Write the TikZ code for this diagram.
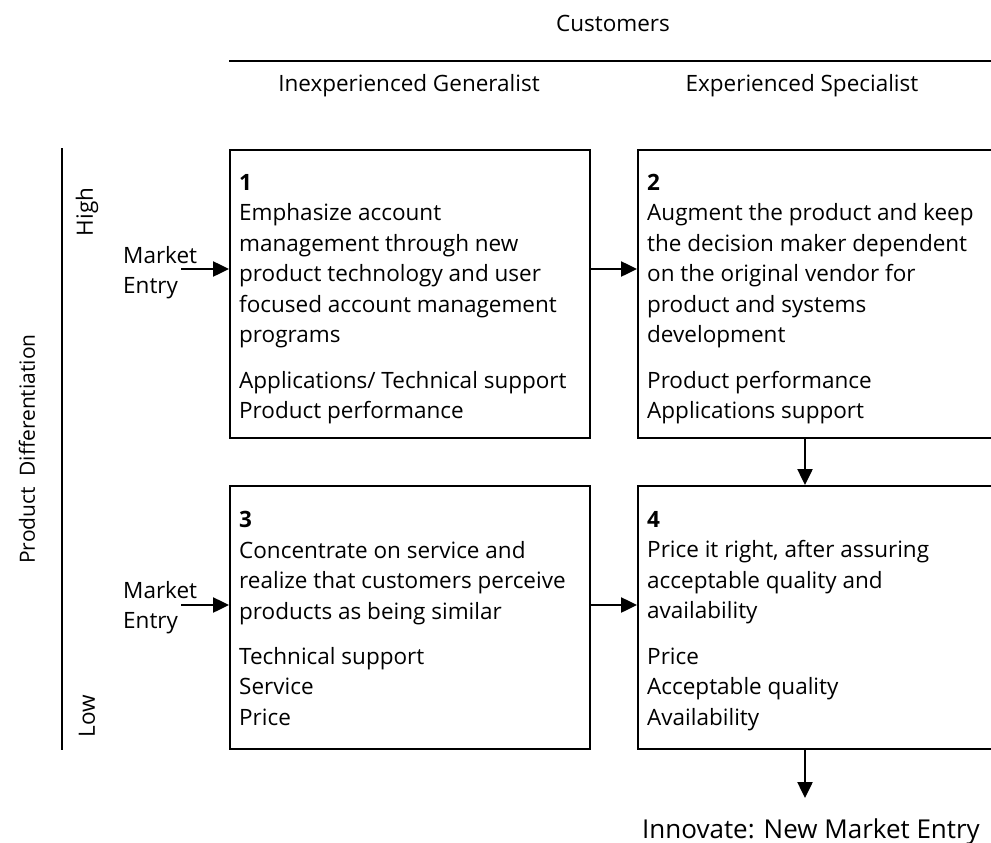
\documentclass[tikz,border=0pt]{standalone}
\usepackage{fontspec}
\setmainfont{Open Sans}
\usetikzlibrary{arrows.meta}

\begin{document}
\begin{tikzpicture}[x=1pt, y=-1pt,
    every node/.style={font=\fontsize{22.5}{30.5}\selectfont},
    quad/.style={draw, line width=1.8pt, minimum width=360pt, inner sep=0pt, anchor=north west},
    body/.style={align=left, inner sep=0pt, anchor=north west},
    rule/.style={line width=1.8pt},
    arrow/.style={-{Triangle[length=16pt,width=15pt]}, line width=2.5pt}
]
\useasboundingbox (0,0) rectangle (991,843);

\node[anchor=base] (cust) at (613,32) {Customers};
\node[anchor=base] (gen) at (409,92) {Inexperienced Generalist};
\node[anchor=base] (spec) at (802,92) {Experienced Specialist};

\node[rotate=90, font=\fontsize{21}{26}\selectfont] (pd) at (27,449) {Product\hspace{0.5em}Differentiation};
\node[rotate=90] (hi) at (87,212) {High};
\node[rotate=90] (lo) at (87,716) {Low};

\node[quad, minimum height=288pt] (b1) at (229,149) {};
\node[quad, minimum height=288pt] (b2) at (637,149) {};
\node[quad, minimum height=263pt] (b3) at (229,485) {};
\node[quad, minimum height=263pt] (b4) at (637,485) {};

\node[body] (t1) at (239,174) {\textbf{1}\\ Emphasize account\\ management through new\\ product technology and user\\ focused account management\\ programs\\[15pt] Applications/ Technical support\\ Product performance};
\node[body] (t2) at (647,174) {\textbf{2}\\ Augment the product and keep\\ the decision maker dependent\\ on the original vendor for\\ product and systems\\ development\\[15pt] Product performance\\ Applications support};
\node[body] (t3) at (239,511) {\textbf{3}\\ Concentrate on service and\\ realize that customers perceive\\ products as being similar\\[15pt] Technical support\\ Service\\ Price};
\node[body] (t4) at (647,511) {\textbf{4}\\ Price it right, after assuring\\ acceptable quality and\\ availability\\[15pt] Price\\ Acceptable quality\\ Availability};

\node[body] (me1) at (123,246) {Market\\ Entry};
\node[body] (me2) at (123,581) {Market\\ Entry};
\node[anchor=base, font=\fontsize{26}{30}\selectfont] (innov) at (811,838) {Innovate: New Market Entry};

\coordinate (hl) at (229,61);
\coordinate (vl) at (62,148);
\coordinate (m1) at (181,269);
\coordinate (m2) at (181,605);
\coordinate (down) at (805,798);

\draw[rule] (hl) -- (hl -| b2.east);
\draw[rule] (vl) -- (vl |- b3.south);

\draw[arrow] (m1) -- (m1 -| b1.west);
\draw[arrow] (m1 -| b1.east) -- (m1 -| b2.west);
\draw[arrow] (m2) -- (m2 -| b3.west);
\draw[arrow] (m2 -| b3.east) -- (m2 -| b4.west);
\draw[arrow] (b2.south -| down) -- (b4.north -| down);
\draw[arrow] (b4.south -| down) -- (down);

\end{tikzpicture}
\end{document}
